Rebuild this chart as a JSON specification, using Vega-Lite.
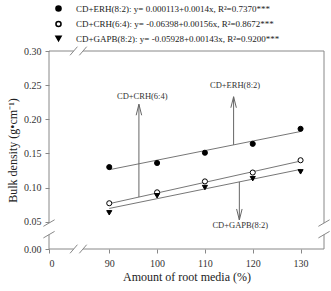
{
  "$schema": "https://vega.github.io/schema/vega-lite/v6.json",
  "width": 275,
  "height": 198,
  "autosize": "none",
  "padding": {"left": 49, "top": 51, "right": 7, "bottom": 42},
  "background": "white",
  "config": {
    "view": {"stroke": null},
    "font": "Liberation Serif",
    "axis": {
      "domain": false,
      "grid": false,
      "labelOverlap": false,
      "tickCount": 20,
      "tickColor": "#888888",
      "tickSize": 4,
      "labelFont": "Liberation Serif",
      "labelFontSize": 10,
      "labelColor": "#333333",
      "titleFont": "Liberation Serif",
      "titleFontSize": 12,
      "titleFontWeight": "normal",
      "titleColor": "#222222"
    }
  },
  "datasets": {
    "obs": [
      {"series": "ERH", "x": 90, "y": 0.130},
      {"series": "ERH", "x": 100, "y": 0.136},
      {"series": "ERH", "x": 110, "y": 0.151},
      {"series": "ERH", "x": 120, "y": 0.164},
      {"series": "ERH", "x": 130, "y": 0.186},
      {"series": "CRH", "x": 90, "y": 0.077},
      {"series": "CRH", "x": 100, "y": 0.093},
      {"series": "CRH", "x": 110, "y": 0.109},
      {"series": "CRH", "x": 120, "y": 0.122},
      {"series": "CRH", "x": 130, "y": 0.140},
      {"series": "GAPB", "x": 90, "y": 0.063},
      {"series": "GAPB", "x": 100, "y": 0.088},
      {"series": "GAPB", "x": 110, "y": 0.100},
      {"series": "GAPB", "x": 120, "y": 0.113},
      {"series": "GAPB", "x": 130, "y": 0.123}
    ],
    "fits": [
      {"series": "ERH", "x": 90, "y": 0.1261},
      {"series": "ERH", "x": 130, "y": 0.1821},
      {"series": "CRH", "x": 90, "y": 0.0764},
      {"series": "CRH", "x": 130, "y": 0.1388},
      {"series": "GAPB", "x": 90, "y": 0.0694},
      {"series": "GAPB", "x": 130, "y": 0.1266}
    ],
    "frame": [
      {"x": 77.4, "y": 0.01, "x2": 77.4, "y2": 0.031},
      {"x": 77.4, "y": 0.048, "x2": 77.4, "y2": 0.30},
      {"x": 134.9, "y": 0.01, "x2": 134.9, "y2": 0.031},
      {"x": 134.9, "y": 0.048, "x2": 134.9, "y2": 0.30},
      {"x": 77.4, "y": 0.01, "x2": 82.57, "y2": 0.01},
      {"x": 84.51, "y": 0.01, "x2": 134.9, "y2": 0.01},
      {"x": 77.4, "y": 0.30, "x2": 82.57, "y2": 0.30},
      {"x": 84.51, "y": 0.30, "x2": 134.9, "y2": 0.30}
    ],
    "breaks": [
      {"x": 76.23, "y": 0.0432, "x2": 78.57, "y2": 0.0528},
      {"x": 76.23, "y": 0.0262, "x2": 78.57, "y2": 0.0358},
      {"x": 133.73, "y": 0.0432, "x2": 136.07, "y2": 0.0528},
      {"x": 133.73, "y": 0.0262, "x2": 136.07, "y2": 0.0358},
      {"x": 81.8, "y": 0.0037, "x2": 83.34, "y2": 0.0163},
      {"x": 83.74, "y": 0.0037, "x2": 85.28, "y2": 0.0163},
      {"x": 81.8, "y": 0.2937, "x2": 83.34, "y2": 0.3063},
      {"x": 83.74, "y": 0.2937, "x2": 85.28, "y2": 0.3063}
    ],
    "arrows": [
      {"x": 96.2, "from": 0.0861, "to": 0.222, "dir": "up"},
      {"x": 116.0, "from": 0.1625, "to": 0.233, "dir": "up"},
      {"x": 117.2, "from": 0.1083, "to": 0.0525, "dir": "down"}
    ],
    "notes": [
      {"x": 96.9, "y": 0.2338, "text": "CD+CRH(6:4)"},
      {"x": 116.3, "y": 0.2499, "text": "CD+ERH(8:2)"},
      {"x": 117.4, "y": 0.0452, "text": "CD+GAPB(8:2)"}
    ]
  },
  "layer": [
    {
      "data": {"name": "frame"},
      "mark": {"type": "rule", "color": "#888888", "strokeWidth": 1},
      "encoding": {
        "x": {
          "field": "x", "type": "quantitative",
          "scale": {"domain": [77.4, 134.9], "nice": false, "zero": false},
          "axis": {
            "values": [77.4, 90, 100, 110, 120, 130],
            "tickCount": 20,
            "labelExpr": "datum.value < 80 ? '0' : format(datum.value, 'd')",
            "title": "Amount of root media (%)",
            "labelPadding": 5,
            "titlePadding": 3
          }
        },
        "y": {
          "field": "y", "type": "quantitative",
          "scale": {"domain": [0.01, 0.30], "nice": false, "zero": false},
          "axis": {
            "values": [0.01, 0.05, 0.10, 0.15, 0.20, 0.25, 0.30],
            "tickCount": 20,
            "labelExpr": "datum.value < 0.02 ? '0.00' : format(datum.value, '.2f')",
            "title": "Bulk density (g•cm⁻¹)",
            "labelPadding": 4,
            "titlePadding": 4
          }
        },
        "x2": {"field": "x2"},
        "y2": {"field": "y2"}
      }
    },
    {
      "data": {"name": "breaks"},
      "mark": {"type": "rule", "color": "#888888", "strokeWidth": 1},
      "encoding": {
        "x": {"field": "x", "type": "quantitative"},
        "y": {"field": "y", "type": "quantitative"},
        "x2": {"field": "x2"},
        "y2": {"field": "y2"}
      }
    },
    {
      "data": {"name": "fits"},
      "mark": {"type": "line", "color": "#777777", "strokeWidth": 1},
      "encoding": {
        "x": {"field": "x", "type": "quantitative"},
        "y": {"field": "y", "type": "quantitative"},
        "detail": {"field": "series"}
      }
    },
    {
      "data": {"name": "arrows"},
      "mark": {"type": "rule", "color": "#666666", "strokeWidth": 1},
      "encoding": {
        "x": {"field": "x", "type": "quantitative"},
        "y": {"field": "from", "type": "quantitative"},
        "y2": {"field": "to"}
      }
    },
    {
      "data": {"name": "arrows"},
      "transform": [{"filter": "datum.dir == 'up'"}],
      "mark": {"type": "point", "shape": "M-0.5,2L0,0L0.5,2", "size": 121, "filled": false, "color": "#666666", "strokeWidth": 1, "opacity": 1},
      "encoding": {
        "x": {"field": "x", "type": "quantitative"},
        "y": {"field": "to", "type": "quantitative"}
      }
    },
    {
      "data": {"name": "arrows"},
      "transform": [{"filter": "datum.dir == 'down'"}],
      "mark": {"type": "point", "shape": "M-0.5,-2L0,0L0.5,-2", "size": 121, "filled": false, "color": "#666666", "strokeWidth": 1, "opacity": 1},
      "encoding": {
        "x": {"field": "x", "type": "quantitative"},
        "y": {"field": "to", "type": "quantitative"}
      }
    },
    {
      "data": {"name": "notes"},
      "mark": {"type": "text", "font": "Liberation Serif", "fontSize": 8.5, "color": "#333333", "baseline": "middle", "align": "center"},
      "encoding": {
        "x": {"field": "x", "type": "quantitative"},
        "y": {"field": "y", "type": "quantitative"},
        "text": {"field": "text"}
      }
    },
    {
      "data": {"name": "obs"},
      "mark": {"type": "point", "stroke": "black", "strokeWidth": 1, "size": 26, "opacity": 1},
      "encoding": {
        "x": {"field": "x", "type": "quantitative"},
        "y": {"field": "y", "type": "quantitative"},
        "shape": {
          "field": "series", "type": "nominal",
          "scale": {"domain": ["ERH", "CRH", "GAPB"], "range": ["circle", "circle", "triangle-down"]},
          "legend": {
            "orient": "none",
            "legendX": 5,
            "legendY": -47,
            "title": null,
            "padding": 0,
            "rowPadding": 2.5,
            "symbolSize": 26,
            "labelFont": "Liberation Serif",
            "labelFontSize": 9,
            "labelColor": "#222222",
            "labelOffset": 13,
            "labelLimit": 400,
            "labelExpr": "datum.value == 'ERH' ? 'CD+ERH(8:2): y= 0.000113+0.0014x, R²=0.7370***' : datum.value == 'CRH' ? 'CD+CRH(6:4): y= -0.06398+0.00156x, R²=0.8672***' : 'CD+GAPB(8:2): y= -0.05928+0.00143x, R²=0.9200***'",
            "encode": {"symbols": {"update": {"stroke": {"value": "black"}, "strokeWidth": {"value": 1}}}}
          }
        },
        "fill": {
          "field": "series", "type": "nominal",
          "scale": {"domain": ["ERH", "CRH", "GAPB"], "range": ["black", "white", "black"]},
          "legend": {
            "orient": "none",
            "legendX": 5,
            "legendY": -47,
            "title": null,
            "padding": 0,
            "rowPadding": 2.5,
            "symbolSize": 26,
            "labelFont": "Liberation Serif",
            "labelFontSize": 9,
            "labelColor": "#222222",
            "labelOffset": 13,
            "labelLimit": 400,
            "labelExpr": "datum.value == 'ERH' ? 'CD+ERH(8:2): y= 0.000113+0.0014x, R²=0.7370***' : datum.value == 'CRH' ? 'CD+CRH(6:4): y= -0.06398+0.00156x, R²=0.8672***' : 'CD+GAPB(8:2): y= -0.05928+0.00143x, R²=0.9200***'",
            "encode": {"symbols": {"update": {"stroke": {"value": "black"}, "strokeWidth": {"value": 1}}}}
          }
        }
      }
    }
  ]
}
